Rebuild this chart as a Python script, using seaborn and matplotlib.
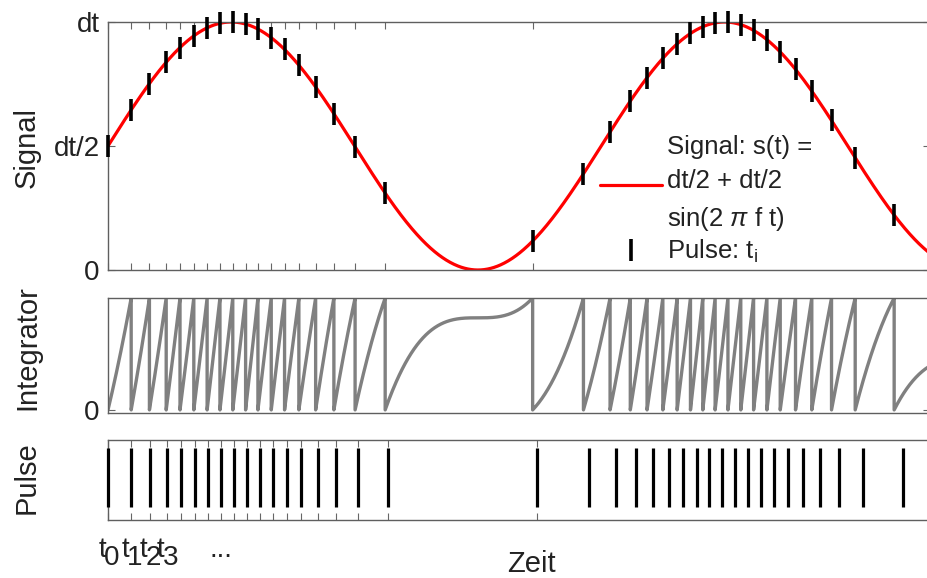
import numpy as np
import pandas as pd
import matplotlib
matplotlib.use("Agg")
import matplotlib.pyplot as plt
from matplotlib.lines import Line2D
import seaborn as sns

# Pulse instants t_i, measured in periods of the signal (f = 1)
pulse_times = [0.000, 0.047, 0.084, 0.118, 0.146, 0.174, 0.201, 0.227, 0.253,
               0.279, 0.304, 0.331, 0.358, 0.387, 0.421, 0.458, 0.501, 0.562,
               0.861, 0.964, 1.018, 1.059, 1.093, 1.125, 1.154, 1.181, 1.206,
               1.231, 1.257, 1.283, 1.309, 1.336, 1.363, 1.394, 1.427, 1.467,
               1.515, 1.594]
# instants that carry a tick mark on the time axis
tick_times = pulse_times[:19]
# indexed labels below the first pulses, then an ellipsis
index_labels = ["0", "1", "2", "3"]
ellipsis_at = 7
signal_ticks = [0.0, 0.5, 1.0]
signal_tick_labels = ["0", "dt/2", "dt"]
t_end = 5 / 3

sns.set_style("white")
plt.rcParams["font.family"] = ["Liberation Sans", "DejaVu Sans"]
plt.rcParams["mathtext.fontset"] = "custom"
plt.rcParams["mathtext.rm"] = "Liberation Sans"
plt.rcParams["mathtext.it"] = "Liberation Sans:italic"
plt.rcParams["text.color"] = "#222222"
plt.rcParams["xtick.color"] = "#666666"
plt.rcParams["ytick.color"] = "#666666"
plt.rcParams["xtick.labelcolor"] = "#222222"
plt.rcParams["ytick.labelcolor"] = "#222222"


def s(t):
    """Signal s(t) = dt/2 + dt/2 sin(2 pi f t) with dt = 1, f = 1."""
    return 0.5 + 0.5 * np.sin(2 * np.pi * np.asarray(t))


def s_int(t):
    """Antiderivative of s(t)."""
    t = np.asarray(t)
    return 0.5 * t - np.cos(2 * np.pi * t) / (4 * np.pi)


# signal curve
t_sig = np.linspace(0, t_end, 1500)
sig_df = pd.DataFrame({"t": t_sig, "s": s(t_sig)})

# integrator: integral of s(t), reset to zero at every pulse
seg_totals = [s_int(b) - s_int(a) for a, b in zip(pulse_times[:-1], pulse_times[1:])]
threshold = float(np.median(seg_totals))
it_t, it_v = [], []
bounds = list(zip(pulse_times[:-1], pulse_times[1:])) + [(pulse_times[-1], t_end)]
for k, (a, b) in enumerate(bounds):
    tt = np.linspace(a, b, 200)
    total = seg_totals[k] if k < len(seg_totals) else threshold
    vv = (s_int(tt) - s_int(a)) / total
    it_t.extend(tt)
    it_v.extend(vv)
    if k < len(seg_totals):
        it_t.append(b)
        it_v.append(0.0)
int_df = pd.DataFrame({"t": it_t, "v": it_v})

W, H = 928, 578
fig = plt.figure(figsize=(W / 100, H / 100), dpi=100)


def rect(left, top, right, bottom):
    return [left / W, 1 - bottom / H, (right - left) / W, (bottom - top) / H]


ax1 = fig.add_axes(rect(108, 22, 930, 270))
ax2 = fig.add_axes(rect(108, 298, 930, 412.7))
ax3 = fig.add_axes(rect(108, 440, 108 + 822 * 1.011, 520))

spine_col = "#5f5f5f"
for ax in (ax1, ax2, ax3):
    ax.set_xlim(0, t_end)
    for sp in ax.spines.values():
        sp.set_color(spine_col)
        sp.set_linewidth(1.0)
    ax.tick_params(direction="in", length=5, width=0.8, top=True, bottom=True,
                   left=True, right=True, labelsize=20, pad=6)

# --- Signal panel ---
sns.lineplot(data=sig_df, x="t", y="s", color="red", linewidth=2.3, ax=ax1,
             estimator=None, sort=False)
ax1.plot(pulse_times, s(pulse_times), ls="none", marker="|", ms=16,
         mew=2.6, color="black", clip_on=False, zorder=4)
ax1.set_ylim(0, 1)
ax1.set_yticks(signal_ticks, signal_tick_labels)
ax1.set_xticks(tick_times, [""] * len(tick_times))
ax1.set_xlabel("")
ax1.set_ylabel("")

handles = [Line2D([], [], color="red", lw=2.3),
           Line2D([], [], color="black", marker="|", ls="none", ms=16, mew=2.6)]
labels = ["Signal: s(t) =\ndt/2 + dt/2\nsin(2 $\\pi$ f t)", "Pulse: t$_\\mathregular{i}$"]
leg = ax1.legend(handles, labels, loc="upper left",
                 bbox_to_anchor=(600 / W, 1 - 135 / H),
                 bbox_transform=fig.transFigure, frameon=False, fontsize=18.5,
                 handlelength=2.4, handletextpad=0.2, borderpad=0, borderaxespad=0,
                 labelspacing=0.2)
for txt in leg.get_texts():
    txt.set_linespacing(1.55)

# --- Integrator panel ---
sns.lineplot(data=int_df, x="t", y="v", color="#808080", linewidth=2.4, ax=ax2,
             estimator=None, sort=False)
ax2.set_ylim(-0.025, 1)
ax2.set_yticks([0], ["0"])
ax2.set_xticks([])
ax2.set_xlabel("")
ax2.set_ylabel("")

# --- Pulse panel ---
ax3.vlines(pulse_times, 0, 1, color="black", linewidth=2.3, clip_on=False, zorder=4)
ax3.set_ylim(-0.226, 1.136)
ax3.set_yticks([])
ax3.set_xticks(tick_times, [""] * len(tick_times))

# t_0 ... t_3 with full-size, lowered indices, followed by an ellipsis
for k, idx in enumerate(index_labels):
    ax3.annotate("t", xy=(pulse_times[k], 0), xycoords=("data", "axes fraction"),
                 xytext=(-6, -37), textcoords="offset pixels", ha="center",
                 va="baseline", fontsize=20)
    ax3.annotate(idx, xy=(pulse_times[k], 0), xycoords=("data", "axes fraction"),
                 xytext=(3.5, -45), textcoords="offset pixels", ha="center",
                 va="baseline", fontsize=20)
ax3.annotate("...", xy=(pulse_times[ellipsis_at], 0), xycoords=("data", "axes fraction"),
             xytext=(0, -37), textcoords="offset pixels", ha="center",
             va="baseline", fontsize=20)

# axis titles
for text, yc in (("Signal", 147), ("Integrator", 348), ("Pulse", 478)):
    fig.text(13 / W, 1 - yc / H, text, rotation=90, ha="left", va="center",
             fontsize=21)
fig.text(531 / W, 1 - 572 / H, "Zeit", ha="center", va="baseline", fontsize=21)

fig.savefig("out.png", dpi=100)
